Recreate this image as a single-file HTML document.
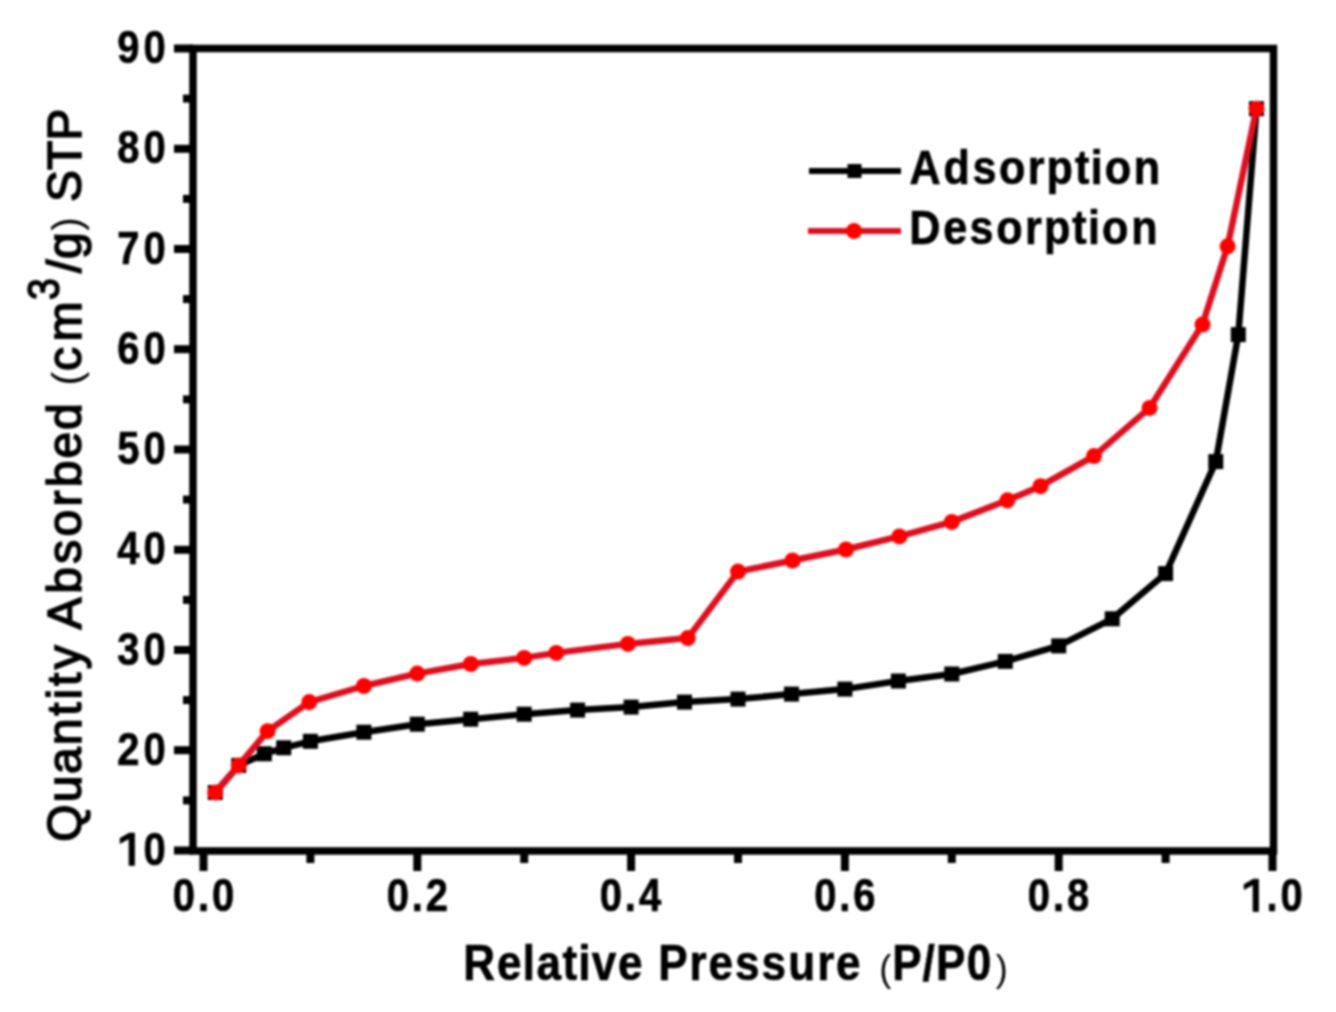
<!DOCTYPE html>
<html><head><meta charset="utf-8"><style>
html,body{margin:0;padding:0;background:#fff;overflow:hidden;}
svg{display:block;filter:blur(1px);}
text{font-family:"Liberation Sans",sans-serif;fill:#000;font-kerning:none;}
</style></head><body>
<svg width="1336" height="1012" viewBox="0 0 1336 1012" font-weight="bold">
<path d="M193 48.5H1273.5V851H193Z" fill="none" stroke="#000" stroke-width="7.5"/>
<path d="M174 850.5H193" stroke="#000" stroke-width="8"/>
<path d="M183 800.4H193" stroke="#000" stroke-width="8"/>
<path d="M174 750.2H193" stroke="#000" stroke-width="8"/>
<path d="M183 700.1H193" stroke="#000" stroke-width="8"/>
<path d="M174 650.0H193" stroke="#000" stroke-width="8"/>
<path d="M183 599.9H193" stroke="#000" stroke-width="8"/>
<path d="M174 549.8H193" stroke="#000" stroke-width="8"/>
<path d="M183 499.6H193" stroke="#000" stroke-width="8"/>
<path d="M174 449.5H193" stroke="#000" stroke-width="8"/>
<path d="M183 399.4H193" stroke="#000" stroke-width="8"/>
<path d="M174 349.2H193" stroke="#000" stroke-width="8"/>
<path d="M183 299.1H193" stroke="#000" stroke-width="8"/>
<path d="M174 249.0H193" stroke="#000" stroke-width="8"/>
<path d="M183 198.9H193" stroke="#000" stroke-width="8"/>
<path d="M174 148.8H193" stroke="#000" stroke-width="8"/>
<path d="M183 98.6H193" stroke="#000" stroke-width="8"/>
<path d="M174 48.5H193" stroke="#000" stroke-width="8"/>
<path d="M203.5 851V871" stroke="#000" stroke-width="8"/>
<path d="M310.4 851V863" stroke="#000" stroke-width="8"/>
<path d="M417.3 851V871" stroke="#000" stroke-width="8"/>
<path d="M524.2 851V863" stroke="#000" stroke-width="8"/>
<path d="M631.1 851V871" stroke="#000" stroke-width="8"/>
<path d="M738.0 851V863" stroke="#000" stroke-width="8"/>
<path d="M844.9 851V871" stroke="#000" stroke-width="8"/>
<path d="M951.8 851V863" stroke="#000" stroke-width="8"/>
<path d="M1058.7 851V871" stroke="#000" stroke-width="8"/>
<path d="M1165.6 851V863" stroke="#000" stroke-width="8"/>
<path d="M1272.5 851V871" stroke="#000" stroke-width="8"/>
<text x="168.69" y="865.4" font-size="47" stroke="#000" stroke-width="0.7" transform="scale(0.85 1)">0</text><path d="M598 0V1170L140 959V1180L613 1409H879V0Z" stroke="#000" stroke-width="35.9" transform="translate(117.38 865.4) scale(0.01951 -0.02295)"/>
<text x="137.94 168.69" y="765.1" font-size="47" stroke="#000" stroke-width="0.7" transform="scale(0.85 1)">20</text>
<text x="137.89 168.69" y="664.8" font-size="47" stroke="#000" stroke-width="0.7" transform="scale(0.85 1)">30</text>
<text x="138.00 168.69" y="564.5" font-size="47" stroke="#000" stroke-width="0.7" transform="scale(0.85 1)">40</text>
<text x="137.96 168.69" y="464.2" font-size="47" stroke="#000" stroke-width="0.7" transform="scale(0.85 1)">50</text>
<text x="137.96 168.69" y="363.9" font-size="47" stroke="#000" stroke-width="0.7" transform="scale(0.85 1)">60</text>
<text x="137.94 168.69" y="263.6" font-size="47" stroke="#000" stroke-width="0.7" transform="scale(0.85 1)">70</text>
<text x="137.96 168.69" y="163.3" font-size="47" stroke="#000" stroke-width="0.7" transform="scale(0.85 1)">80</text>
<text x="137.96 168.69" y="63.0" font-size="47" stroke="#000" stroke-width="0.7" transform="scale(0.85 1)">90</text>
<text x="203.35 232.96 249.47" y="911.5" font-size="47" stroke="#000" stroke-width="0.7" transform="scale(0.85 1)">0.0</text>
<text x="454.88 484.49 501.00" y="911.5" font-size="47" stroke="#000" stroke-width="0.7" transform="scale(0.85 1)">0.2</text>
<text x="705.50 735.11 751.69" y="911.5" font-size="47" stroke="#000" stroke-width="0.7" transform="scale(0.85 1)">0.4</text>
<text x="957.81 987.41 1003.94" y="911.5" font-size="47" stroke="#000" stroke-width="0.7" transform="scale(0.85 1)">0.6</text>
<text x="1209.21 1238.82 1255.35" y="911.5" font-size="47" stroke="#000" stroke-width="0.7" transform="scale(0.85 1)">0.8</text>
<text x="1489.90 1506.41" y="911.5" font-size="47" stroke="#000" stroke-width="0.7" transform="scale(0.85 1)">.0</text><path d="M598 0V1170L140 959V1180L613 1409H879V0Z" stroke="#000" stroke-width="35.9" transform="translate(1241.38 911.5) scale(0.01951 -0.02295)"/>
<text x="526.30 564.77 594.16 609.73 639.16 656.98 672.46 702.41" y="980.5" font-size="50" stroke="#000" stroke-width="0.7" transform="scale(0.88 1)">Relative</text>
<text x="747.89 783.59 805.02 835.24 865.49 895.85 928.71 950.14" y="980.5" font-size="50" stroke="#000" stroke-width="0.7" transform="scale(0.88 1)">Pressure</text>
<text x="879.25" y="980.5" font-size="36" font-weight="normal">(</text>
<text x="1013.80 1048.42 1063.67 1098.68" y="980.5" font-size="50" stroke="#000" stroke-width="0.7" transform="scale(0.88 1)">P/P0</text>
<text x="995.75" y="980.5" font-size="36" font-weight="normal">)</text>
<g transform="rotate(-90)"><text x="-841.65 -802.32 -773.96 -745.26 -715.77 -699.39 -685.91 -669.15" y="81" font-size="48" font-weight="normal" stroke="#000" stroke-width="1.6">Quantity</text><text x="-629.45 -593.85 -563.86 -536.47 -506.53 -487.27 -458.39 -429.90" y="81" font-size="48" font-weight="normal" stroke="#000" stroke-width="1.6">Absorbed</text><text x="-385.50" y="81" font-size="41" font-weight="normal">(</text><text x="-371.00 -341.45" y="81" font-size="48" font-weight="normal" stroke="#000" stroke-width="1.6">cm</text><text x="-340.95" y="59" font-size="44.5" font-weight="normal" stroke="#000" stroke-width="1.6" transform="scale(0.88 1)">3</text><text x="-273.00 -259.10" y="81" font-size="48" font-weight="normal" stroke="#000" stroke-width="1.6">/g</text><text x="-230.85" y="81" font-size="41" font-weight="normal">)</text><text x="-202.05 -170.01 -140.80" y="81" font-size="48" font-weight="normal" stroke="#000" stroke-width="1.6">STP</text></g>
<polyline points="215.3,792.5 238.8,765.4 264.4,753.8 283.7,747.8 310.4,741.3 363.9,732.2 417.3,724.2 470.8,719.2 524.2,714.2 577.6,710.1 631.1,707.1 684.5,702.1 738.0,699.1 791.5,694.1 844.9,689.1 898.4,681.0 951.8,674.0 1005.2,661.4 1058.7,645.9 1112.2,618.8 1165.6,573.6 1215.8,461.6 1238.3,334.6 1256.5,108.7" fill="none" stroke="#000" stroke-width="6.5" stroke-linejoin="round"/>
<rect x="207.8" y="785.0" width="15" height="15" fill="#000"/>
<rect x="231.3" y="757.9" width="15" height="15" fill="#000"/>
<rect x="256.9" y="746.3" width="15" height="15" fill="#000"/>
<rect x="276.2" y="740.3" width="15" height="15" fill="#000"/>
<rect x="302.9" y="733.8" width="15" height="15" fill="#000"/>
<rect x="356.4" y="724.7" width="15" height="15" fill="#000"/>
<rect x="409.8" y="716.7" width="15" height="15" fill="#000"/>
<rect x="463.2" y="711.7" width="15" height="15" fill="#000"/>
<rect x="516.7" y="706.7" width="15" height="15" fill="#000"/>
<rect x="570.1" y="702.6" width="15" height="15" fill="#000"/>
<rect x="623.6" y="699.6" width="15" height="15" fill="#000"/>
<rect x="677.0" y="694.6" width="15" height="15" fill="#000"/>
<rect x="730.5" y="691.6" width="15" height="15" fill="#000"/>
<rect x="784.0" y="686.6" width="15" height="15" fill="#000"/>
<rect x="837.4" y="681.6" width="15" height="15" fill="#000"/>
<rect x="890.9" y="673.5" width="15" height="15" fill="#000"/>
<rect x="944.3" y="666.5" width="15" height="15" fill="#000"/>
<rect x="997.8" y="653.9" width="15" height="15" fill="#000"/>
<rect x="1051.2" y="638.4" width="15" height="15" fill="#000"/>
<rect x="1104.7" y="611.3" width="15" height="15" fill="#000"/>
<rect x="1158.1" y="566.1" width="15" height="15" fill="#000"/>
<rect x="1208.3" y="454.1" width="15" height="15" fill="#000"/>
<rect x="1230.8" y="327.1" width="15" height="15" fill="#000"/>
<rect x="1249.0" y="101.2" width="15" height="15" fill="#000"/>
<polyline points="215.3,792.5 238.8,765.4 267.6,731.2 309.3,702.1 363.9,686.0 417.3,673.6 470.8,664.0 524.2,657.9 556.3,652.9 627.9,643.9 687.8,638.1 738.0,571.6 792.5,560.5 846.0,549.5 899.4,536.4 951.8,521.9 1007.4,500.3 1040.5,486.2 1094.0,456.1 1149.6,407.9 1202.5,324.6 1227.6,246.3 1256.5,108.7" fill="none" stroke="#dc1020" stroke-width="6.5" stroke-linejoin="round"/>
<circle cx="215.3" cy="792.5" r="8" fill="#f00"/>
<circle cx="238.8" cy="765.4" r="8" fill="#f00"/>
<circle cx="267.6" cy="731.2" r="8" fill="#f00"/>
<circle cx="309.3" cy="702.1" r="8" fill="#f00"/>
<circle cx="363.9" cy="686.0" r="8" fill="#f00"/>
<circle cx="417.3" cy="673.6" r="8" fill="#f00"/>
<circle cx="470.8" cy="664.0" r="8" fill="#f00"/>
<circle cx="524.2" cy="657.9" r="8" fill="#f00"/>
<circle cx="556.3" cy="652.9" r="8" fill="#f00"/>
<circle cx="627.9" cy="643.9" r="8" fill="#f00"/>
<circle cx="687.8" cy="638.1" r="8" fill="#f00"/>
<circle cx="738.0" cy="571.6" r="8" fill="#f00"/>
<circle cx="792.5" cy="560.5" r="8" fill="#f00"/>
<circle cx="846.0" cy="549.5" r="8" fill="#f00"/>
<circle cx="899.4" cy="536.4" r="8" fill="#f00"/>
<circle cx="951.8" cy="521.9" r="8" fill="#f00"/>
<circle cx="1007.4" cy="500.3" r="8" fill="#f00"/>
<circle cx="1040.5" cy="486.2" r="8" fill="#f00"/>
<circle cx="1094.0" cy="456.1" r="8" fill="#f00"/>
<circle cx="1149.6" cy="407.9" r="8" fill="#f00"/>
<circle cx="1202.5" cy="324.6" r="8" fill="#f00"/>
<circle cx="1227.6" cy="246.3" r="8" fill="#f00"/>
<circle cx="1256.5" cy="108.7" r="8" fill="#f00"/>
<path d="M809 171H901" stroke="#000" stroke-width="6"/>
<rect x="847.5" y="164" width="14" height="14" fill="#000"/>
<text x="1033.41 1072.11 1105.03 1135.24 1167.82 1189.35 1221.59 1239.46 1255.32 1288.34" y="184.5" font-size="49" stroke="#000" stroke-width="0.7" transform="scale(0.88 1)">Adsorption</text>
<path d="M808 231H901" stroke="#dc1020" stroke-width="6"/>
<circle cx="854" cy="231" r="8" fill="#f00"/>
<text x="1033.11 1071.75 1101.84 1132.11 1164.74 1186.32 1218.61 1236.51 1252.41 1285.50" y="244.5" font-size="49" stroke="#000" stroke-width="0.7" transform="scale(0.88 1)">Desorption</text>
</svg>
</body></html>
